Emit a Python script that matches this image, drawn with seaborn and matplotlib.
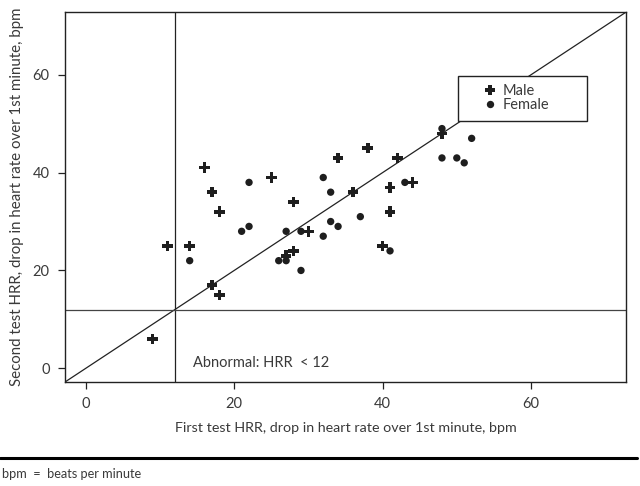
import pandas as pd
import matplotlib.pyplot as plt
import seaborn as sns
from matplotlib.lines import Line2D
from matplotlib.patches import Rectangle

# first test HRR vs second test HRR (bpm)
male_first = [9, 11, 14, 16, 17, 18, 17, 18, 25, 28, 30, 28, 27, 34, 38, 36, 42, 41, 41, 44, 40, 48]
male_second = [6, 25, 25, 41, 36, 32, 17, 15, 39, 34, 28, 24, 23, 43, 45, 36, 43, 37, 32, 38, 25, 48]
female_first = [14, 21, 22, 22, 26, 27, 27, 29, 29, 32, 32, 33, 33, 34, 37, 43, 41, 48, 48, 50, 51, 52]
female_second = [22, 28, 29, 38, 22, 22, 28, 28, 20, 39, 27, 36, 30, 29, 31, 38, 24, 49, 43, 43, 42, 47]

cutoff = 12
ticks = [0, 20, 40, 60]
lims = (-2.8, 72.8)


def main():
    df = pd.DataFrame({
        "first": male_first + female_first,
        "second": male_second + female_second,
        "sex": ["Male"] * len(male_first) + ["Female"] * len(female_first),
    })

    sns.set_style("ticks")
    plt.rcParams["font.family"] = ["Lato", "DejaVu Sans"]
    txt = "#3a3a3a"
    ink = "#1e1e1e"

    fig = plt.figure(figsize=(6.4, 4.86), dpi=100)
    ax = fig.add_axes([0.1016, 0.214, 0.8765, 0.761])

    sns.scatterplot(
        data=df, x="first", y="second", hue="sex", style="sex", size="sex",
        markers={"Male": "P", "Female": "o"},
        palette={"Male": ink, "Female": ink},
        sizes={"Male": 58, "Female": 28},
        edgecolor="none", linewidth=0, ax=ax, zorder=3,
    )

    ax.set_xlim(*lims)
    ax.set_ylim(*lims)
    ax.plot(lims, lims, color="#222222", lw=0.9, zorder=2)
    ax.axvline(cutoff, color="#222222", lw=0.9, zorder=2)
    ax.axhline(cutoff, color="#444444", lw=0.9, zorder=2)

    ax.text(14.4, 1.0, "Abnormal: HRR  < 12", fontsize=10.5, color=txt, va="center", ha="left")

    ax.set_xticks(ticks)
    ax.set_yticks(ticks)
    ax.tick_params(axis="both", direction="out", length=5, width=0.9, colors="#222222",
                   labelcolor=txt, labelsize=10.5, pad=6)
    for sp in ax.spines.values():
        sp.set_visible(True)
        sp.set_linewidth(1.0)
        sp.set_color("#222222")

    ax.set_xlabel("First test HRR, drop in heart rate over 1st minute, bpm", fontsize=10.3, color=txt, labelpad=8)
    ax.set_ylabel("Second test HRR, drop in heart rate over 1st minute, bpm", fontsize=10.8, color=txt, labelpad=6)

    # legend box drawn by hand, entries placed inside it
    ax.add_patch(Rectangle((0.7005, 0.705), 0.23, 0.122, transform=ax.transAxes,
                           facecolor="white", edgecolor="#222222", lw=1.0, zorder=4))
    handles, labels = ax.get_legend_handles_labels()
    leg = ax.legend(handles, labels, loc="center left", bbox_to_anchor=(0.745, 0.767),
                    frameon=False, fontsize=10.5, labelcolor=txt,
                    borderpad=0, handletextpad=0.35, labelspacing=0.0,
                    handlelength=1.0, borderaxespad=0)
    leg.set_zorder(5)

    fig.add_artist(Line2D([0.0, 0.995], [1 - 458 / 486] * 2, transform=fig.transFigure,
                          color="black", lw=2.2))
    fig.text(0.003, 1 - 474 / 486, "bpm  =  beats per minute", fontsize=9.2, color=txt, va="center")

    fig.savefig("out.png", dpi=100)


if __name__ == "__main__":
    main()
